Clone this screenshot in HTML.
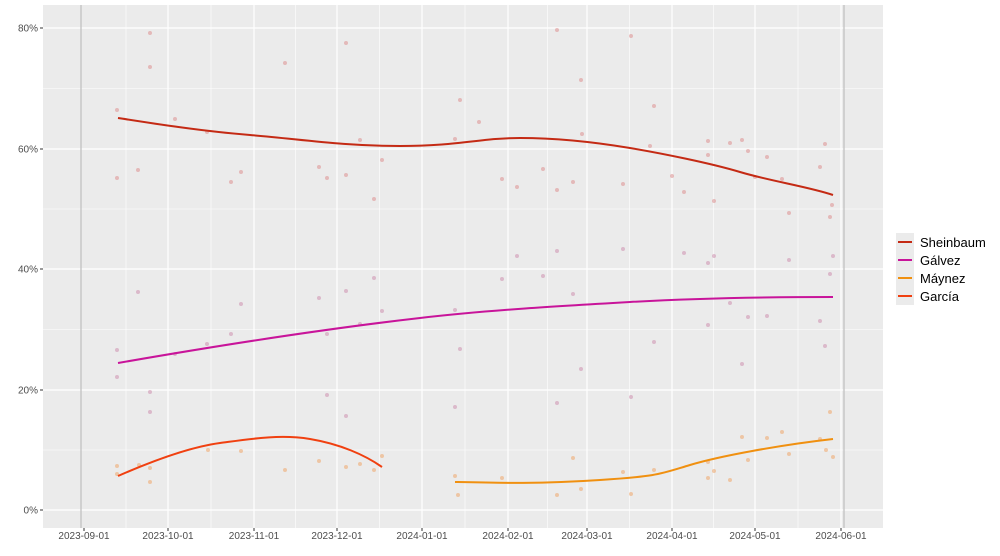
<!DOCTYPE html>
<html><head><meta charset="utf-8"><style>
body{margin:0;background:#fff;}
svg{display:block;font-family:"Liberation Sans",sans-serif;}
</style></head><body>
<svg width="1000" height="556" viewBox="0 0 1000 556">
<rect x="43" y="5" width="840" height="523" fill="#ebebeb"/>
<g stroke="#fff" stroke-width="0.6">
<line x1="43" x2="883" y1="88.5" y2="88.5"/><line x1="43" x2="883" y1="209" y2="209"/><line x1="43" x2="883" y1="329.5" y2="329.5"/><line x1="43" x2="883" y1="450" y2="450"/>
<line y1="5" y2="528" x1="126" x2="126"/><line y1="5" y2="528" x1="211" x2="211"/><line y1="5" y2="528" x1="295.5" x2="295.5"/><line y1="5" y2="528" x1="379.5" x2="379.5"/><line y1="5" y2="528" x1="465" x2="465"/><line y1="5" y2="528" x1="547.5" x2="547.5"/><line y1="5" y2="528" x1="629.5" x2="629.5"/><line y1="5" y2="528" x1="713.5" x2="713.5"/><line y1="5" y2="528" x1="798" x2="798"/>
</g>
<g stroke="#fff" stroke-width="1.2">
<line x1="43" x2="883" y1="28" y2="28"/><line x1="43" x2="883" y1="149" y2="149"/><line x1="43" x2="883" y1="269" y2="269"/><line x1="43" x2="883" y1="390" y2="390"/><line x1="43" x2="883" y1="510" y2="510"/>
<line y1="5" y2="528" x1="168" x2="168"/><line y1="5" y2="528" x1="254" x2="254"/><line y1="5" y2="528" x1="337" x2="337"/><line y1="5" y2="528" x1="422" x2="422"/><line y1="5" y2="528" x1="508" x2="508"/><line y1="5" y2="528" x1="587" x2="587"/><line y1="5" y2="528" x1="672" x2="672"/><line y1="5" y2="528" x1="755" x2="755"/><line y1="5" y2="528" x1="841" x2="841"/>
</g>
<line x1="81" x2="81" y1="5" y2="528" stroke="#c8c8c8" stroke-width="1.5"/>
<line x1="844" x2="844" y1="5" y2="528" stroke="#c8c8c8" stroke-width="1.5"/>
<g fill="#d88" opacity="0.5">
<circle cx="117" cy="110" r="2"/><circle cx="150" cy="33" r="2"/><circle cx="150" cy="67" r="2"/><circle cx="138" cy="170" r="2"/><circle cx="117" cy="178" r="2"/><circle cx="175" cy="119" r="2"/><circle cx="207" cy="132" r="2"/><circle cx="231" cy="182" r="2"/><circle cx="241" cy="172" r="2"/><circle cx="285" cy="63" r="2"/><circle cx="346" cy="43" r="2"/><circle cx="319" cy="167" r="2"/><circle cx="327" cy="178" r="2"/><circle cx="346" cy="175" r="2"/><circle cx="360" cy="140" r="2"/><circle cx="374" cy="199" r="2"/><circle cx="382" cy="160" r="2"/><circle cx="455" cy="139" r="2"/><circle cx="460" cy="100" r="2"/><circle cx="479" cy="122" r="2"/><circle cx="502" cy="179" r="2"/><circle cx="517" cy="187" r="2"/><circle cx="543" cy="169" r="2"/><circle cx="557" cy="30" r="2"/><circle cx="557" cy="190" r="2"/><circle cx="573" cy="182" r="2"/><circle cx="581" cy="80" r="2"/><circle cx="582" cy="134" r="2"/><circle cx="631" cy="36" r="2"/><circle cx="623" cy="184" r="2"/><circle cx="654" cy="106" r="2"/><circle cx="650" cy="146" r="2"/><circle cx="672" cy="176" r="2"/><circle cx="684" cy="192" r="2"/><circle cx="708" cy="141" r="2"/><circle cx="708" cy="155" r="2"/><circle cx="714" cy="201" r="2"/><circle cx="730" cy="143" r="2"/><circle cx="742" cy="140" r="2"/><circle cx="748" cy="151" r="2"/><circle cx="755" cy="177" r="2"/><circle cx="767" cy="157" r="2"/><circle cx="782" cy="179" r="2"/><circle cx="789" cy="213" r="2"/><circle cx="825" cy="144" r="2"/><circle cx="820" cy="167" r="2"/><circle cx="830" cy="217" r="2"/><circle cx="832" cy="205" r="2"/>
</g>
<g fill="#c8a" opacity="0.5">
<circle cx="117" cy="350" r="2"/><circle cx="117" cy="377" r="2"/><circle cx="138" cy="292" r="2"/><circle cx="150" cy="392" r="2"/><circle cx="150" cy="412" r="2"/><circle cx="175" cy="354" r="2"/><circle cx="207" cy="344" r="2"/><circle cx="231" cy="334" r="2"/><circle cx="241" cy="304" r="2"/><circle cx="319" cy="298" r="2"/><circle cx="327" cy="334" r="2"/><circle cx="327" cy="395" r="2"/><circle cx="346" cy="291" r="2"/><circle cx="346" cy="416" r="2"/><circle cx="360" cy="324" r="2"/><circle cx="374" cy="278" r="2"/><circle cx="382" cy="311" r="2"/><circle cx="455" cy="310" r="2"/><circle cx="460" cy="349" r="2"/><circle cx="455" cy="407" r="2"/><circle cx="502" cy="279" r="2"/><circle cx="517" cy="256" r="2"/><circle cx="543" cy="276" r="2"/><circle cx="557" cy="251" r="2"/><circle cx="557" cy="403" r="2"/><circle cx="573" cy="294" r="2"/><circle cx="581" cy="369" r="2"/><circle cx="623" cy="249" r="2"/><circle cx="631" cy="397" r="2"/><circle cx="654" cy="342" r="2"/><circle cx="684" cy="253" r="2"/><circle cx="708" cy="263" r="2"/><circle cx="708" cy="325" r="2"/><circle cx="714" cy="256" r="2"/><circle cx="730" cy="303" r="2"/><circle cx="742" cy="364" r="2"/><circle cx="748" cy="317" r="2"/><circle cx="767" cy="316" r="2"/><circle cx="789" cy="260" r="2"/><circle cx="820" cy="321" r="2"/><circle cx="825" cy="346" r="2"/><circle cx="830" cy="274" r="2"/><circle cx="833" cy="256" r="2"/>
</g>
<g fill="#f0a060" opacity="0.5">
<circle cx="117" cy="466" r="2"/><circle cx="117" cy="474" r="2"/><circle cx="139" cy="465" r="2"/><circle cx="150" cy="468" r="2"/><circle cx="150" cy="482" r="2"/><circle cx="208" cy="450" r="2"/><circle cx="241" cy="451" r="2"/><circle cx="285" cy="470" r="2"/><circle cx="319" cy="461" r="2"/><circle cx="346" cy="467" r="2"/><circle cx="360" cy="464" r="2"/><circle cx="374" cy="470" r="2"/><circle cx="382" cy="456" r="2"/><circle cx="455" cy="476" r="2"/><circle cx="458" cy="495" r="2"/><circle cx="502" cy="478" r="2"/><circle cx="557" cy="495" r="2"/><circle cx="573" cy="458" r="2"/><circle cx="581" cy="489" r="2"/><circle cx="623" cy="472" r="2"/><circle cx="631" cy="494" r="2"/><circle cx="654" cy="470" r="2"/><circle cx="708" cy="462" r="2"/><circle cx="708" cy="478" r="2"/><circle cx="714" cy="471" r="2"/><circle cx="730" cy="480" r="2"/><circle cx="742" cy="437" r="2"/><circle cx="748" cy="460" r="2"/><circle cx="767" cy="438" r="2"/><circle cx="782" cy="432" r="2"/><circle cx="789" cy="454" r="2"/><circle cx="820" cy="439" r="2"/><circle cx="826" cy="450" r="2"/><circle cx="830" cy="412" r="2"/><circle cx="833" cy="457" r="2"/>
</g>
<g fill="none" stroke-width="2">
<path d="M118,118 C150,123 200,131 250,135 S340,146 400,146 S480,138 520,138 S600,143 630,148 S710,163 740,172 S810,187 833,195" stroke="#c42a14"/>
<path d="M118,363 C250,340 350,326 420,318 S560,306 630,302 S760,297 833,297" stroke="#c8149a"/>
<path d="M118,476 C150,462 190,447 220,443 S280,434 310,439 S365,455 382,467" stroke="#f04010"/>
<path d="M455,482 C500,483 540,484 600,480 S660,474 690,465 S780,445 833,439" stroke="#f09010"/>
</g>
<g font-size="10" fill="#4d4d4d" text-anchor="end">
<text x="38" y="31.5">80%</text><text x="38" y="152.5">60%</text><text x="38" y="272.5">40%</text><text x="38" y="393.5">20%</text><text x="38" y="513.5">0%</text>
</g>
<g stroke="#333" stroke-width="1">
<line x1="40" x2="43" y1="28" y2="28"/><line x1="40" x2="43" y1="149" y2="149"/><line x1="40" x2="43" y1="269" y2="269"/><line x1="40" x2="43" y1="390" y2="390"/><line x1="40" x2="43" y1="510" y2="510"/>
<line y1="528" y2="531" x1="84" x2="84"/><line y1="528" y2="531" x1="168" x2="168"/><line y1="528" y2="531" x1="254" x2="254"/><line y1="528" y2="531" x1="337" x2="337"/><line y1="528" y2="531" x1="422" x2="422"/><line y1="528" y2="531" x1="508" x2="508"/><line y1="528" y2="531" x1="587" x2="587"/><line y1="528" y2="531" x1="672" x2="672"/><line y1="528" y2="531" x1="755" x2="755"/><line y1="528" y2="531" x1="841" x2="841"/>
</g>
<g font-size="10" fill="#4d4d4d" text-anchor="middle">
<text x="84" y="539">2023-09-01</text><text x="168" y="539">2023-10-01</text><text x="254" y="539">2023-11-01</text><text x="337" y="539">2023-12-01</text><text x="422" y="539">2024-01-01</text><text x="508" y="539">2024-02-01</text><text x="587" y="539">2024-03-01</text><text x="672" y="539">2024-04-01</text><text x="755" y="539">2024-05-01</text><text x="841" y="539">2024-06-01</text>
</g>
<g font-size="13" fill="#000">
<rect x="896" y="233" width="18" height="18" fill="#ebebeb"/><line x1="898" x2="912" y1="242" y2="242" stroke="#c42a14" stroke-width="2"/><text x="920" y="247">Sheinbaum</text>
<rect x="896" y="251" width="18" height="18" fill="#ebebeb"/><line x1="898" x2="912" y1="260" y2="260" stroke="#c8149a" stroke-width="2"/><text x="920" y="265">Gálvez</text>
<rect x="896" y="269" width="18" height="18" fill="#ebebeb"/><line x1="898" x2="912" y1="278" y2="278" stroke="#f09010" stroke-width="2"/><text x="920" y="283">Máynez</text>
<rect x="896" y="287" width="18" height="18" fill="#ebebeb"/><line x1="898" x2="912" y1="296" y2="296" stroke="#f04010" stroke-width="2"/><text x="920" y="301">García</text>
</g>
</svg>
</body></html>
